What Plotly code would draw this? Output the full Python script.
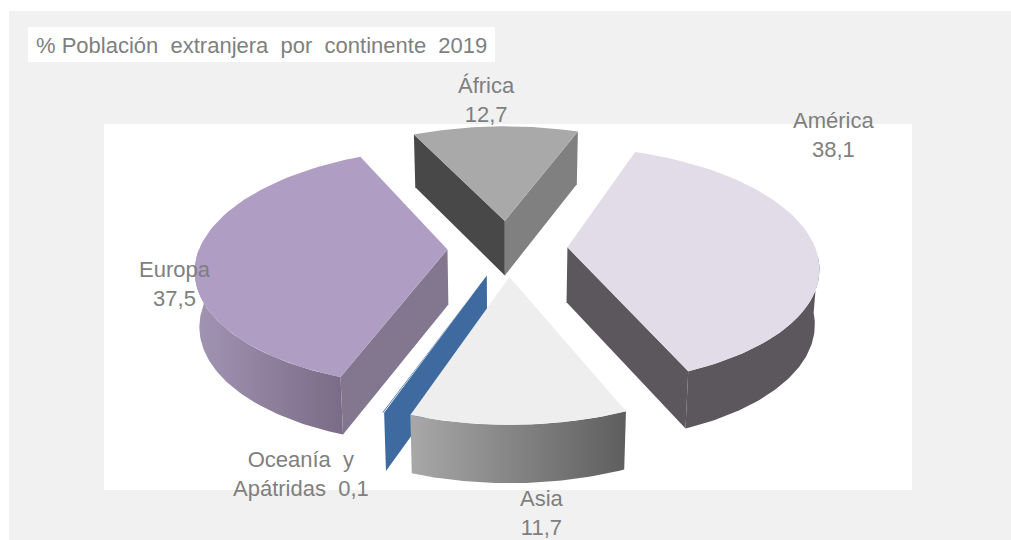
import numpy as np
import plotly.graph_objects as go

# Data
continents = ["África", "América", "Asia", "Oceanía  y<br>Apátridas", "Europa"]
shares = [12.7, 38.1, 11.7, 0.1, 37.5]
title_text = "% Población  extranjera  por  continente  2019"

# Styles
top_colors = ["#a9a9a9", "#e2dce9", "#eeeeee", "#3f6aa0", "#b09dc3"]
TEXT = "#7f7f7f"

# Projection of the tilted pie onto the pixel-scaled axes
CX, CY, R, EXPLODE, PERSP, SQUASH = 507.5, 248, 248, 60, 0.00060, 0.468
START = -25.5


def project(X, Y, low=False):
    X, Y = np.asarray(X, float), np.asarray(Y, float)
    s = 1 / (1 + PERSP * Y)
    x = X * s
    y = -SQUASH * Y * s
    if low:
        x = x * 0.985
        y = y + 40 + 15 * s
    return CX + x, CY + y


class Slice:
    def __init__(self, a, b):
        self.a, self.b = a, b
        mid = np.radians((a + b) / 2)
        self.ox, self.oy = EXPLODE * np.sin(mid), EXPLODE * np.cos(mid)

    def rim(self, a, b, n=70, low=False):
        t = np.radians(np.linspace(a, b, n))
        return project(self.ox + R * np.sin(t), self.oy + R * np.cos(t), low)

    def apex(self, low=False):
        return project([self.ox], [self.oy], low)

    def top(self):
        x, y = self.rim(self.a, self.b)
        ax, ay = self.apex()
        return np.r_[ax, x, ax], np.r_[ay, y, ay]

    def radial_wall(self, angle):
        rx, ry = self.rim(angle, angle, 1)
        rx2, ry2 = self.rim(angle, angle, 1, low=True)
        ax, ay = self.apex()
        ax2, ay2 = self.apex(low=True)
        return np.r_[ax, rx, rx2, ax2, ax], np.r_[ay, ry, ry2, ay2, ay]

    def outer_wall(self, a, b):
        x, y = self.rim(a, b)
        x2, y2 = self.rim(a, b, low=True)
        return np.r_[x, x2[::-1], x[0]], np.r_[y, y2[::-1], y[0]]


def poly(fig, xy, color=None, gradient=None):
    kw = dict(x=xy[0], y=xy[1], mode="lines", fill="toself", line=dict(width=0),
              hoverinfo="skip", showlegend=False)
    if gradient:
        kw["fillgradient"] = dict(type="horizontal",
                                  colorscale=[[0, gradient[0]], [1, gradient[1]]])
    else:
        kw["fillcolor"] = color
    fig.add_trace(go.Scatter(**kw))


total = sum(shares)
edges = START + np.r_[0, np.cumsum(shares)] / total * 360
sl = {name: Slice(edges[i], edges[i + 1]) for i, name in enumerate(continents)}
africa, america, asia, oceania, europe = [sl[c] for c in continents]

fig = go.Figure()

# África
poly(fig, africa.radial_wall(africa.a), "#484848")
poly(fig, africa.radial_wall(africa.b), "#808080")
poly(fig, africa.top(), top_colors[0])

# Europa
poly(fig, europe.outer_wall(europe.a, 270), gradient=("#a294b3", "#7a6b87"))
poly(fig, europe.radial_wall(europe.a), "#83768f")
poly(fig, europe.top(), top_colors[4])

# América
poly(fig, america.outer_wall(95, america.b), "#5c575c")
poly(fig, america.radial_wall(america.b), "#5c575c")
poly(fig, america.top(), top_colors[1])

# Oceanía
poly(fig, oceania.radial_wall(oceania.a), top_colors[3])
poly(fig, oceania.top(), top_colors[3])

# Asia
poly(fig, asia.outer_wall(asia.a, asia.b), gradient=("#a8a8a8", "#5e5e5e"))
poly(fig, asia.top(), top_colors[2])


def num(v):
    return f"{v:.1f}".replace(".", ",")


labels = [
    (f"{continents[0]}<br>{num(shares[0])}", 486, 100),
    (f"{continents[1]}<br>{num(shares[1])}", 833, 135),
    (f"{continents[2]}<br>{num(shares[2])}", 542, 513),
    (f"{continents[3]}  {num(shares[3])}", 301, 474),
    (f"{continents[4]}<br>{num(shares[4])}", 175, 284),
]
annotations = [
    dict(x=x, y=y, text=t, xref="x", yref="y", showarrow=False, align="center",
         font=dict(family="Liberation Sans", size=22, color=TEXT))
    for t, x, y in labels
]
annotations.append(dict(x=34, y=45, text=title_text, xref="x", yref="y", showarrow=False,
                        xanchor="left",
                        font=dict(family="Liberation Sans", size=22, color=TEXT)))

shapes = [
    dict(type="rect", x0=9, x1=1011, y0=11, y1=540, fillcolor="#f1f1f1", line_width=0, layer="below"),
    dict(type="rect", x0=104, x1=912, y0=124, y1=490, fillcolor="#ffffff", line_width=0, layer="below"),
    dict(type="rect", x0=28, x1=495, y0=27, y1=62, fillcolor="#ffffff", line_width=0, layer="below"),
]

fig.update_layout(
    width=1011, height=540, autosize=False,
    margin=dict(l=0, r=0, t=0, b=0),
    paper_bgcolor="#ffffff", plot_bgcolor="rgba(0,0,0,0)",
    xaxis=dict(range=[0, 1011], visible=False, fixedrange=True),
    yaxis=dict(range=[540, 0], visible=False, fixedrange=True),
    shapes=shapes, annotations=annotations, showlegend=False,
)
fig.write_html("out.html", config={"displayModeBar": False},
               post_script="document.documentElement.style.overflow='hidden';document.body.style.margin='0';")
